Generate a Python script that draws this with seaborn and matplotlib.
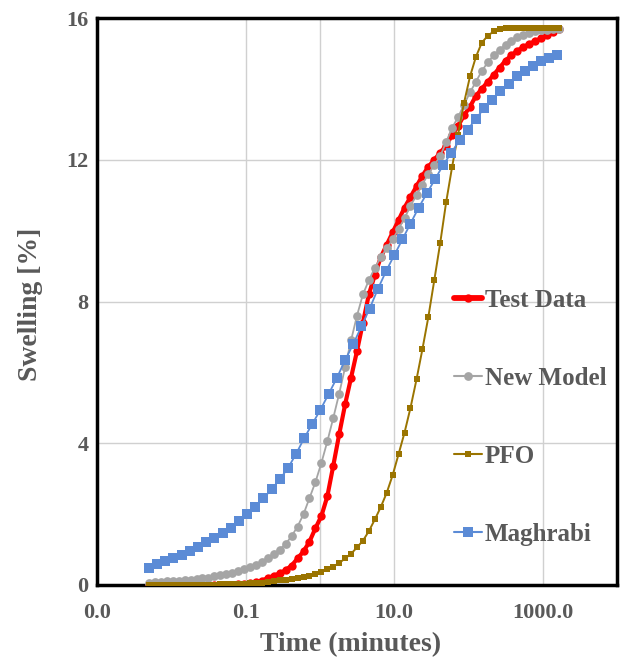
import matplotlib
matplotlib.use("Agg")
import matplotlib.pyplot as plt
import matplotlib.ticker as mticker
from matplotlib.lines import Line2D
import seaborn as sns
import pandas as pd

# ---------------- data ----------------
time_a = [0.00501, 0.00603, 0.00724, 0.00871, 0.0105, 0.0126, 0.0151, 0.0182, 0.0219, 0.0263,
          0.0316, 0.0380, 0.0457, 0.0550, 0.0661, 0.0794, 0.0955, 0.115, 0.138, 0.166,
          0.200, 0.240, 0.288, 0.347, 0.417, 0.501, 0.603, 0.724, 0.871, 1.05,
          1.26, 1.51, 1.82, 2.19, 2.63, 3.16, 3.80, 4.57, 5.50, 6.61,
          7.94, 9.55, 11.5, 13.8, 16.6, 20.0, 24.0, 28.8, 34.7, 41.7,
          50.1, 60.3, 72.4, 87.1, 105, 126, 151, 182, 219, 263,
          316, 380, 457, 550, 661, 794, 955, 1150, 1380, 1660]

test_data = [0.0, 0.0, 0.0, 0.0, 0.0, 0.0, 0.0, 0.0, 0.0, 0.0,
             0.0, 0.0, 0.0, 0.0, 0.01, 0.02, 0.03, 0.05, 0.08, 0.12,
             0.20, 0.26, 0.33, 0.42, 0.55, 0.75, 0.95, 1.22, 1.6, 1.95,
             2.5, 3.35, 4.25, 5.1, 5.85, 6.6, 7.4, 8.2, 8.75, 9.25,
             9.6, 9.95, 10.3, 10.65, 10.95, 11.25, 11.55, 11.8, 12.0, 12.2,
             12.4, 12.7, 12.95, 13.25, 13.5, 13.8, 14.0, 14.2, 14.4, 14.6,
             14.8, 14.95, 15.08, 15.18, 15.27, 15.35, 15.43, 15.52, 15.6, 15.68]

new_model = [0.06, 0.08, 0.09, 0.10, 0.11, 0.12, 0.13, 0.15, 0.17, 0.19,
             0.21, 0.24, 0.27, 0.30, 0.34, 0.39, 0.44, 0.50, 0.57, 0.65,
             0.75, 0.87, 1.0, 1.16, 1.38, 1.65, 2.0, 2.45, 2.9, 3.45,
             4.05, 4.7, 5.4, 6.15, 6.9, 7.6, 8.2, 8.6, 8.95, 9.25,
             9.5, 9.75, 10.05, 10.35, 10.7, 11.0, 11.3, 11.6, 11.85, 12.1,
             12.5, 12.9, 13.2, 13.55, 13.9, 14.2, 14.5, 14.75, 14.95, 15.1,
             15.25, 15.35, 15.45, 15.52, 15.58, 15.62, 15.65, 15.67, 15.68, 15.7]

pfo = [0.0, 0.0, 0.0, 0.0, 0.0, 0.0, 0.0, 0.0, 0.0, 0.0,
       0.01, 0.01, 0.02, 0.02, 0.03, 0.03, 0.04, 0.05, 0.06, 0.07,
       0.09, 0.11, 0.13, 0.15, 0.17, 0.19, 0.22, 0.26, 0.31, 0.37,
       0.44, 0.52, 0.62, 0.75, 0.88, 1.06, 1.25, 1.52, 1.85, 2.2,
       2.6, 3.1, 3.7, 4.3, 5.0, 5.8, 6.65, 7.55, 8.6, 9.65,
       10.8, 11.8, 12.7, 13.6, 14.35, 14.9, 15.3, 15.5, 15.62, 15.68,
       15.71, 15.72, 15.72, 15.72, 15.72, 15.72, 15.72, 15.72, 15.72, 15.72]

time_b = [0.00501, 0.00646, 0.00832, 0.0107, 0.0138, 0.0178, 0.0229, 0.0295, 0.0380, 0.0490,
          0.0631, 0.0813, 0.105, 0.135, 0.174, 0.224, 0.288, 0.372, 0.479, 0.617,
          0.794, 1.02, 1.32, 1.70, 2.19, 2.82, 3.63, 4.68, 6.03, 7.76,
          10.0, 12.9, 16.6, 21.4, 27.5, 35.5, 45.7, 58.9, 75.9, 97.7,
          126, 162, 209, 269, 347, 447, 575, 741, 955, 1230, 1580]

maghrabi = [0.48, 0.58, 0.67, 0.77, 0.86, 0.96, 1.07, 1.2, 1.33, 1.47,
            1.62, 1.8, 2.0, 2.2, 2.45, 2.7, 2.98, 3.3, 3.7, 4.15,
            4.55, 4.95, 5.4, 5.85, 6.35, 6.8, 7.3, 7.8, 8.35, 8.85,
            9.3, 9.75, 10.2, 10.65, 11.05, 11.45, 11.85, 12.2, 12.55, 12.85,
            13.15, 13.45, 13.7, 13.95, 14.15, 14.35, 14.5, 14.65, 14.78, 14.88, 14.95]

series_names = ["Test Data", "New Model", "PFO", "Maghrabi"]
x_ticks = [0.001, 0.1, 10, 1000]
x_tick_labels = ["0.0", "0.1", "10.0", "1000.0"]
y_ticks = [0, 4, 8, 12, 16]

# ---------------- style ----------------
sns.set_theme(style="white")
plt.rcParams["font.family"] = ["Liberation Serif", "DejaVu Serif"]
plt.rcParams["font.weight"] = "bold"
TXT = "#595959"

colors = {"Test Data": "#FF0000", "New Model": "#A5A5A5",
          "PFO": "#9A7400", "Maghrabi": "#5B8BD6"}

fig = plt.figure(figsize=(6.21, 6.58), dpi=100)
ax = fig.add_axes([97 / 621, 73 / 658, 520 / 621, 567 / 658])

frames = {
    "Test Data": pd.DataFrame({"t": time_a, "s": test_data}),
    "New Model": pd.DataFrame({"t": time_a, "s": new_model}),
    "PFO": pd.DataFrame({"t": time_a, "s": pfo}),
    "Maghrabi": pd.DataFrame({"t": time_b, "s": maghrabi}),
}
styles = {
    "Test Data": dict(marker="o", markersize=6.0, linewidth=3.0),
    "New Model": dict(marker="o", markersize=6.3, linewidth=1.3),
    "PFO": dict(marker="s", markersize=4.8, linewidth=1.4),
    "Maghrabi": dict(marker="s", markersize=7.0, linewidth=1.3),
}

for name in series_names:
    st = styles[name]
    sns.lineplot(data=frames[name], x="t", y="s", ax=ax, color=colors[name],
                 marker=st["marker"], markersize=st["markersize"],
                 linewidth=st["linewidth"], markeredgewidth=0,
                 estimator=None, sort=False, legend=False, zorder=3)

ax.set_xscale("log")
ax.set_xlim(0.001, 10000)
ax.set_ylim(0, 16)
ax.xaxis.set_major_locator(mticker.FixedLocator(x_ticks))
ax.xaxis.set_major_formatter(mticker.FixedFormatter(x_tick_labels))
ax.xaxis.set_minor_locator(mticker.FixedLocator([1]))
ax.xaxis.set_minor_formatter(mticker.NullFormatter())
ax.set_yticks(y_ticks)

ax.grid(True, which="major", color="#D0D0D0", linewidth=1.0)
ax.grid(True, which="minor", axis="x", color="#D0D0D0", linewidth=1.0)
ax.set_axisbelow(True)

for sp in ax.spines.values():
    sp.set_visible(True)
    sp.set_color("black")
    sp.set_linewidth(2.5)

ax.tick_params(axis="x", which="both", length=0, pad=13, labelsize=16, labelcolor=TXT)
ax.tick_params(axis="y", length=0, pad=6, labelsize=16, labelcolor=TXT)
for lab in ax.get_xticklabels() + ax.get_yticklabels():
    lab.set_fontweight("bold")

ax.set_xlabel("Time (minutes)", fontsize=20, fontweight="bold", color=TXT)
ax.set_ylabel("Swelling [%]", fontsize=20, fontweight="bold", color=TXT)
ax.xaxis.set_label_coords(0.487, -0.083)
ax.yaxis.set_label_coords(-0.103, 0.495)

handles = []
for name in series_names:
    st = styles[name]
    lw = 4.2 if name == "Test Data" else 1.5
    handles.append(Line2D([], [], color=colors[name], marker=st["marker"],
                          markersize=st["markersize"], markeredgewidth=0,
                          linewidth=lw))
leg = ax.legend(handles, series_names, loc="upper left",
                bbox_to_anchor=(0.686, 0.522), frameon=False,
                fontsize=18, labelspacing=2.2, handlelength=1.15,
                handletextpad=0.1, borderpad=0, borderaxespad=0)
for t in leg.get_texts():
    t.set_color(TXT)
    t.set_fontweight("bold")

fig.savefig("out.png", dpi=100)
